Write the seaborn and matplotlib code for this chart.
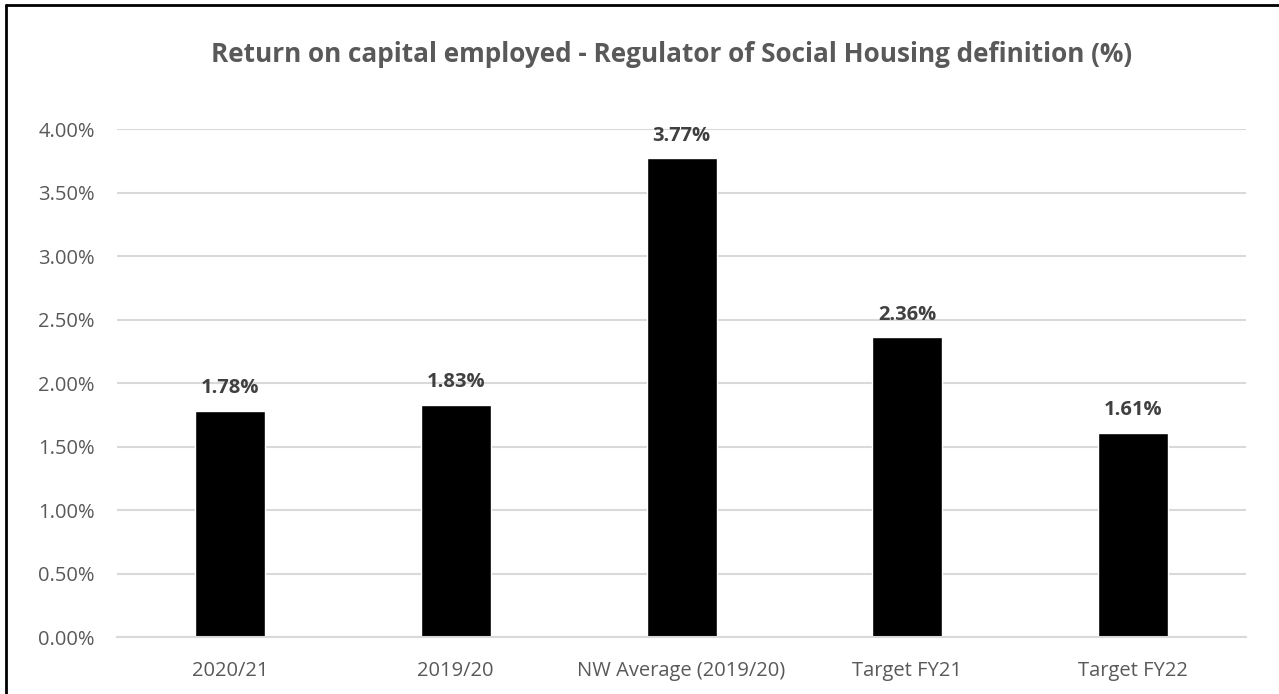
import matplotlib
matplotlib.use("Agg")
import matplotlib.pyplot as plt
from matplotlib.lines import Line2D
import seaborn as sns

categories = ["2020/21", "2019/20", "NW Average (2019/20)", "Target FY21", "Target FY22"]
values = [1.78, 1.83, 3.77, 2.36, 1.61]
yticks = [0.0, 0.5, 1.0, 1.5, 2.0, 2.5, 3.0, 3.5, 4.0]
title = "Return on capital employed - Regulator of Social Housing definition (%)"

sns.set_theme(style="white")
plt.rcParams["font.family"] = ["Open Sans", "DejaVu Sans"]

fig = plt.figure(figsize=(12.79, 6.94), dpi=100)
ax = fig.add_axes([0.0915, 0.0821, 0.9742 - 0.0915, 0.8141 - 0.0821])

sns.barplot(x=categories, y=values, color="black", saturation=1, width=0.31, ax=ax)

ax.set_ylim(0, 4.0)
ax.set_yticks(yticks)
ax.set_yticklabels([f"{v:.2f}%" for v in yticks])
ax.yaxis.grid(True, color="#d9d9d9", linewidth=1.5)
ax.set_axisbelow(True)
for s in ["top", "right", "left"]:
    ax.spines[s].set_visible(False)
ax.spines["bottom"].set_color("#d9d9d9")
ax.spines["bottom"].set_linewidth(1.5)
ax.tick_params(axis="y", length=0, pad=16, labelsize=14.5, labelcolor="#595959")
ax.tick_params(axis="x", length=0, pad=17, labelsize=14.5, labelcolor="#595959")
ax.set_xlabel("")
ax.set_ylabel("")

for i, v in enumerate(values):
    ax.annotate(f"{v:.2f}%", xy=(i, v), xytext=(0, 9), textcoords="offset points",
                ha="center", va="bottom", fontsize=14.5, fontweight="bold", color="#404040")

fig.text(672 / 1279, 1 - 54 / 694, title, ha="center", va="center", fontsize=18.8,
         fontweight="bold", color="#595959")

# chart frame
fig.add_artist(Line2D([6 / 1279, 6 / 1279], [0, 1 - 5 / 694], transform=fig.transFigure,
                      color="black", linewidth=2))
fig.add_artist(Line2D([6 / 1279, 1], [1 - 5 / 694, 1 - 5 / 694], transform=fig.transFigure,
                      color="black", linewidth=2))

fig.savefig("out.png", dpi=100)
